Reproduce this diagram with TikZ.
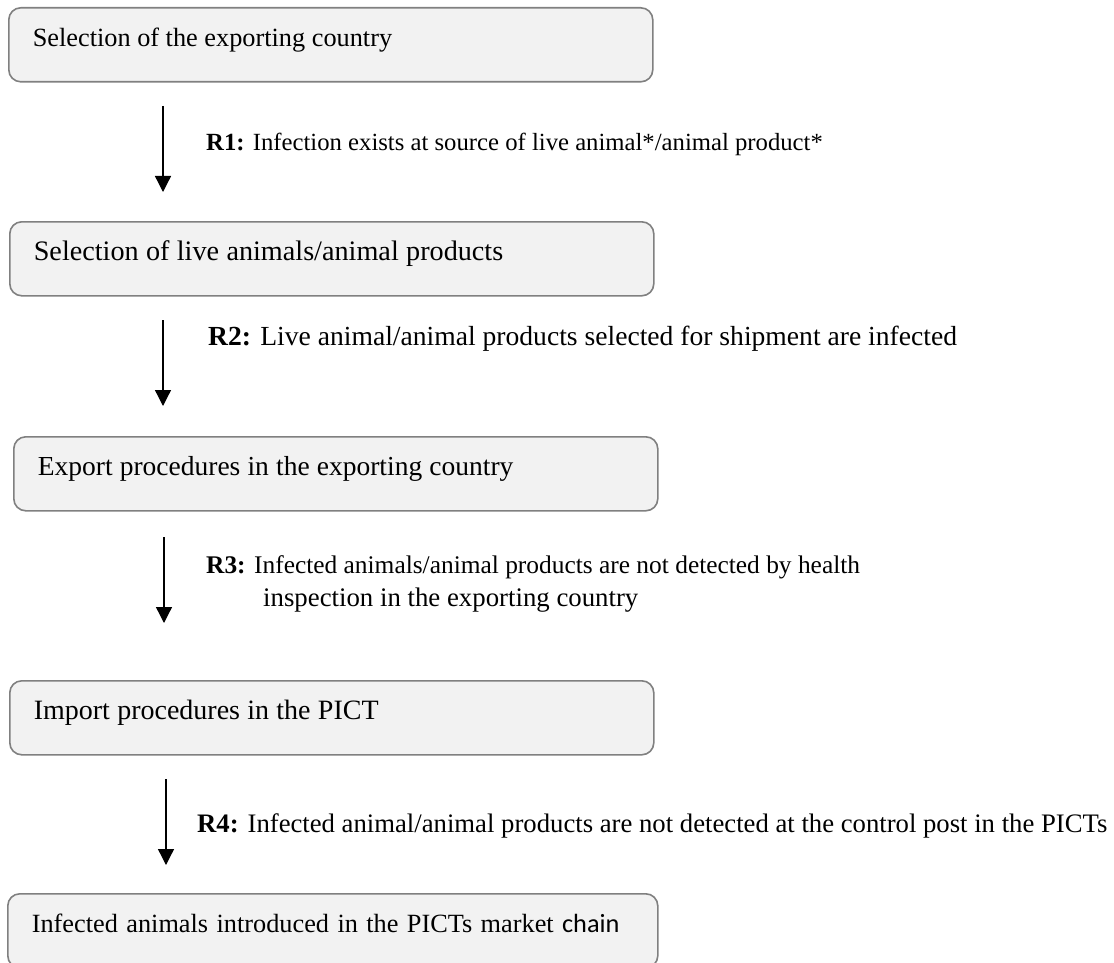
\documentclass[tikz,border=0pt]{standalone}
\usepackage{fontspec}
\setmainfont{Liberation Serif}
\newfontfamily\calibrifont{Carlito}
\usetikzlibrary{arrows.meta}

\definecolor{boxfill}{HTML}{F2F2F2}
\definecolor{boxline}{HTML}{808080}

% text size and interword space of a stage box
\newcommand\stagefont[2]{\fontsize{#1}{30}\selectfont\spaceskip=#2em plus 0.1em\relax}

\tikzset{
  stagebox/.style={
    draw=boxline, fill=boxfill, line width=1.6pt, rounded corners=12pt,
    anchor=north west, inner xsep=24pt, inner ysep=0pt,
    text width=596pt, align=flush left,
    text height=39pt, text depth=35pt,
    font=\stagefont{26.3}{0.25}
  },
  stagetext/.style 2 args={font=\stagefont{#1}{#2}},
  flowarrow/.style={-{Triangle[width=16pt,length=16pt]}, line width=1.3pt, black},
  risklabel/.style={anchor=base west, inner sep=0pt, font=\fontsize{#1}{30}\selectfont},
  risklabel/.default=26
}

\begin{document}
\begin{tikzpicture}[x=1pt,y=1pt]
  \useasboundingbox (0,0) rectangle (1114,-963);

  % stages of the import pathway
  \node[stagebox] (s1) at (8,-7) {Selection of the exporting country};
  \node[stagebox, stagetext={28.2}{0.26}] (s2) at (9,-221) {Selection of live animals/animal products};
  \node[stagebox, stagetext={27.5}{0.26}] (s3) at (13,-436) {Export procedures in the exporting country};
  \node[stagebox, stagetext={28}{0.26}] (s4) at (9,-680) {Import procedures in the PICT};
  \node[stagebox, stagetext={26.3}{0.32}, text width=602pt] (s5) at (7,-893) {Infected animals introduced in the PICTs market {\calibrifont chain}};

  % arrow end points between the stages
  \coordinate (a1s) at (163,-106); \coordinate (a1e) at (163,-192);
  \coordinate (a2s) at (163,-320); \coordinate (a2e) at (163,-406);
  \coordinate (a3s) at (164,-537); \coordinate (a3e) at (164,-623);
  \coordinate (a4s) at (166,-779); \coordinate (a4e) at (166,-865);

  \draw[flowarrow] (a1s) -- (a1e);
  \draw[flowarrow] (a2s) -- (a2e);
  \draw[flowarrow] (a3s) -- (a3e);
  \draw[flowarrow] (a4s) -- (a4e);

  % risk steps
  \node[risklabel=24.7] (r1) at (206,-151) {\textbf{R1:} Infection exists at source of live animal*/animal product*};
  \node[risklabel=27.6] (r2) at (208,-345) {\textbf{R2:} Live animal/animal products selected for shipment are infected};
  \node[risklabel=25.4] (r3) at (206,-573) {\textbf{R3:} Infected animals/animal products are not detected by health};
  \node[risklabel=26.8] (r3b) at (263,-606) {inspection in the exporting country};
  \node[risklabel=26.7] (r4) at (197,-832) {\textbf{R4:} Infected animal/animal products are not detected at the control post in the PICTs};
\end{tikzpicture}
\end{document}
